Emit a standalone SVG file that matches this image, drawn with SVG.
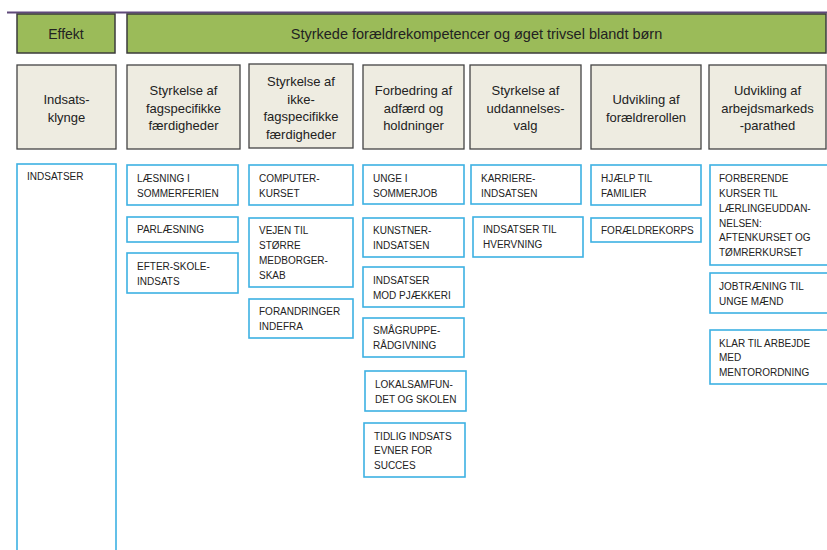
<svg xmlns="http://www.w3.org/2000/svg" width="827" height="550" viewBox="0 0 827 550">
<style>
.g{fill:#9BBB59;stroke:#3b3b3b;stroke-width:1.5}
.h{fill:#EEECE1;stroke:#444;stroke-width:1.3}
.b{fill:#fff;stroke:#3DB1E3;stroke-width:1.6}
.t{font-family:"Liberation Sans",Arial,sans-serif;fill:#222}
.ht{font-size:13px;text-anchor:middle}
.bt{font-size:10px}
</style>
<rect width="827" height="550" fill="#fff"/>
<line x1="7" y1="12.5" x2="827" y2="12.5" stroke="#5F497A" stroke-width="2.2"/>
<g id="effekt"><rect class="g" x="17" y="14" width="98" height="39"/><text class="t ht" x="66" y="38.5" style="font-size:14px">Effekt</text></g>
<g id="title"><rect class="g" x="127" y="14" width="699" height="39"/><text class="t ht" x="476.5" y="38.5" style="font-size:14.5px">Styrkede forældrekompetencer og øget trivsel blandt børn</text></g>
<g id="h1"><rect class="h" x="17" y="65" width="99" height="84"/><text class="t ht" x="66.5"><tspan x="66.5" y="104">Indsats-</tspan><tspan x="66.5" y="121.5">klynge</tspan></text></g>
<g id="h2"><rect class="h" x="127" y="65" width="113" height="84"/><text class="t ht"><tspan x="183.5" y="95">Styrkelse af</tspan><tspan x="183.5" y="112.5">fagspecifikke</tspan><tspan x="183.5" y="130">færdigheder</tspan></text></g>
<g id="h3"><rect class="h" x="249" y="64" width="104" height="84"/><text class="t ht"><tspan x="301" y="86">Styrkelse af</tspan><tspan x="301" y="103.5">ikke-</tspan><tspan x="301" y="121">fagspecifikke</tspan><tspan x="301" y="138.5">færdigheder</tspan></text></g>
<g id="h4"><rect class="h" x="363" y="65" width="101" height="84"/><text class="t ht"><tspan x="413.5" y="95">Forbedring af</tspan><tspan x="413.5" y="112.5">adfærd og</tspan><tspan x="413.5" y="130">holdninger</tspan></text></g>
<g id="h5"><rect class="h" x="470" y="65" width="111" height="84"/><text class="t ht"><tspan x="525.5" y="95">Styrkelse af</tspan><tspan x="525.5" y="112.5">uddannelses-</tspan><tspan x="525.5" y="130">valg</tspan></text></g>
<g id="h6"><rect class="h" x="591" y="65" width="110" height="84"/><text class="t ht"><tspan x="646" y="104">Udvikling af</tspan><tspan x="646" y="121.5">forældrerollen</tspan></text></g>
<g id="h7"><rect class="h" x="709" y="65" width="117" height="84"/><text class="t ht"><tspan x="767.5" y="95">Udvikling af</tspan><tspan x="767.5" y="112.5">arbejdsmarkeds</tspan><tspan x="767.5" y="130">-parathed</tspan></text></g>

<g id="indsatser"><rect class="b" x="17" y="164" width="99" height="400"/><text class="t bt" x="27" y="180">INDSATSER</text></g>

<g id="n1"><rect class="b" x="127" y="165" width="111" height="40"/><text class="t bt"><tspan x="137" y="182">LÆSNING I</tspan><tspan x="137" y="197">SOMMERFERIEN</tspan></text></g>
<g id="n2"><rect class="b" x="127" y="217" width="111" height="25"/><text class="t bt" x="137" y="233">PARLÆSNING</text></g>
<g id="n3"><rect class="b" x="127" y="253" width="111" height="40"/><text class="t bt"><tspan x="137" y="270">EFTER-SKOLE-</tspan><tspan x="137" y="285">INDSATS</tspan></text></g>

<g id="n4"><rect class="b" x="249" y="165" width="104" height="40"/><text class="t bt"><tspan x="259" y="182">COMPUTER-</tspan><tspan x="259" y="197">KURSET</tspan></text></g>
<g id="n5"><rect class="b" x="249" y="218" width="104" height="69"/><text class="t bt"><tspan x="259" y="234">VEJEN TIL</tspan><tspan x="259" y="249">STØRRE</tspan><tspan x="259" y="264">MEDBORGER-</tspan><tspan x="259" y="279">SKAB</tspan></text></g>
<g id="n6"><rect class="b" x="249" y="299" width="104" height="39"/><text class="t bt"><tspan x="259" y="315">FORANDRINGER</tspan><tspan x="259" y="330">INDEFRA</tspan></text></g>

<g id="n7"><rect class="b" x="363" y="165" width="101" height="39"/><text class="t bt"><tspan x="373" y="182">UNGE I</tspan><tspan x="373" y="197">SOMMERJOB</tspan></text></g>
<g id="n8"><rect class="b" x="363" y="218" width="101" height="39"/><text class="t bt"><tspan x="373" y="234">KUNSTNER-</tspan><tspan x="373" y="249">INDSATSEN</tspan></text></g>
<g id="n9"><rect class="b" x="363" y="267" width="101" height="40"/><text class="t bt"><tspan x="373" y="284">INDSATSER</tspan><tspan x="373" y="299">MOD PJÆKKERI</tspan></text></g>
<g id="n10"><rect class="b" x="363" y="318" width="101" height="39"/><text class="t bt"><tspan x="373" y="334">SMÅGRUPPE-</tspan><tspan x="373" y="349">RÅDGIVNING</tspan></text></g>
<g id="n11"><rect class="b" x="365" y="371" width="101" height="40"/><text class="t bt"><tspan x="375" y="388">LOKALSAMFUN-</tspan><tspan x="375" y="403">DET OG SKOLEN</tspan></text></g>
<g id="n12"><rect class="b" x="364" y="423" width="101" height="54"/><text class="t bt"><tspan x="374" y="440">TIDLIG INDSATS</tspan><tspan x="374" y="454">EVNER FOR</tspan><tspan x="374" y="469">SUCCES</tspan></text></g>

<g id="n13"><rect class="b" x="471" y="165" width="110" height="39"/><text class="t bt"><tspan x="481" y="182">KARRIERE-</tspan><tspan x="481" y="197">INDSATSEN</tspan></text></g>
<g id="n14"><rect class="b" x="473" y="217" width="110" height="40"/><text class="t bt"><tspan x="483" y="233">INDSATSER TIL</tspan><tspan x="483" y="248">HVERVNING</tspan></text></g>

<g id="n15"><rect class="b" x="591" y="165" width="110" height="40"/><text class="t bt"><tspan x="601" y="182">HJÆLP TIL</tspan><tspan x="601" y="197">FAMILIER</tspan></text></g>
<g id="n16"><rect class="b" x="591" y="218" width="110" height="24"/><text class="t bt" x="601" y="234">FORÆLDREKORPS</text></g>

<g id="n17"><rect class="b" x="710" y="165" width="118" height="100"/><text class="t bt"><tspan x="719" y="182">FORBERENDE</tspan><tspan x="719" y="197">KURSER TIL</tspan><tspan x="719" y="212">LÆRLINGEUDDAN-</tspan><tspan x="719" y="227">NELSEN:</tspan><tspan x="719" y="241">AFTENKURSET OG</tspan><tspan x="719" y="256">TØMRERKURSET</tspan></text></g>
<g id="n18"><rect class="b" x="710" y="273" width="118" height="40"/><text class="t bt"><tspan x="719" y="290">JOBTRÆNING TIL</tspan><tspan x="719" y="305">UNGE MÆND</tspan></text></g>
<g id="n19"><rect class="b" x="710" y="330" width="118" height="54"/><text class="t bt"><tspan x="719" y="347">KLAR TIL ARBEJDE</tspan><tspan x="719" y="361">MED</tspan><tspan x="719" y="376">MENTORORDNING</tspan></text></g>
<g id="connectors"></g>
</svg>
